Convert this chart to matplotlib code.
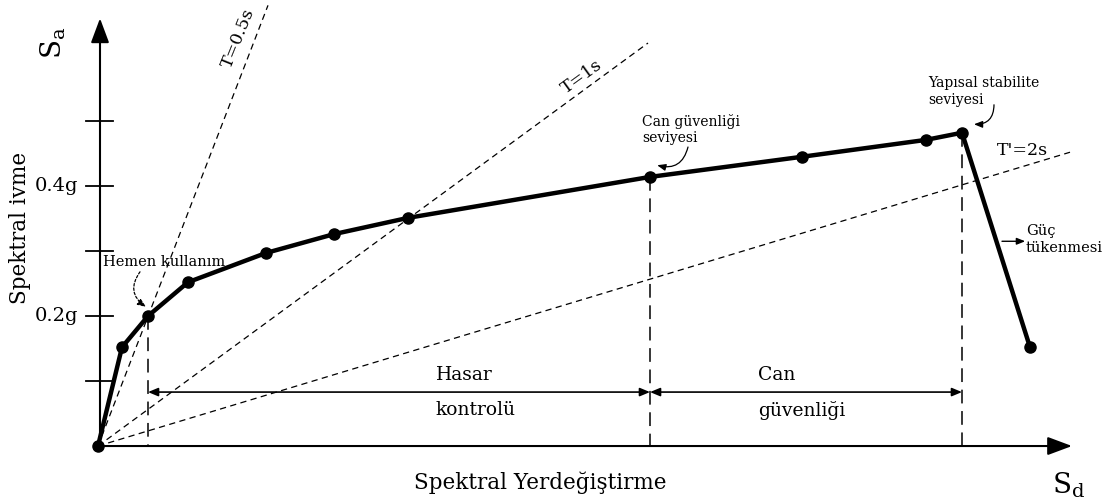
import numpy as np
import matplotlib
matplotlib.use("Agg")
import matplotlib.pyplot as plt

plt.rcParams['font.family'] = ['DejaVu Serif']
plt.rcParams['mathtext.fontset'] = 'dejavuserif'

# Kapasite egrisi (Sd: spektral yerdegistirme, Sa: spektral ivme [g])
sd = [0.0, 0.6, 1.25, 2.25, 4.2, 5.9, 7.75, 13.8, 17.6, 20.7, 21.6, 23.3]
sa = [0.0, 0.152, 0.20, 0.252, 0.297, 0.326, 0.351, 0.414, 0.445, 0.471, 0.482, 0.152]

# Performans seviyeleri (egri uzerindeki nokta indeksleri)
idx_hemen = 2
idx_can = 7
idx_yapisal = 10

# Periyot dogrulari: uc noktalari (Sd, Sa)
periyot_etiket = ["T=0.5s", "T=1s", "T'=2s"]
periyot_sd = [4.25, 13.75, 24.3]
periyot_sa = [0.678, 0.62, 0.452]

# Eksen isaretleri
ytick_vals = [0.1, 0.2, 0.3, 0.4, 0.5]
ytick_labels = {0.2: "0.2g", 0.4: "0.4g"}

fig = plt.figure(figsize=(11.13, 5.04), dpi=100)
ax = fig.add_axes([0, 0, 1, 1])
ax.set_xlim(-2.45, 25.375)
ax.set_ylim(-0.0892, 0.6862)
ax.axis('off')

# Eksenler
eksen_ok = dict(arrowstyle='-|>,head_length=0.75,head_width=0.28',
                lw=1.5, color='k', mutation_scale=20, shrinkA=0, shrinkB=0)
ax.annotate('', xy=(0.05, 0.658), xytext=(0.05, 0.0), arrowprops=eksen_ok)
ax.annotate('', xy=(24.35, 0.0), xytext=(0.0, 0.0), arrowprops=eksen_ok)
for v in ytick_vals:
    ax.plot([-0.3, 0.38], [v, v], color='k', lw=1.3)
    if v in ytick_labels:
        ax.text(-0.5, v, ytick_labels[v], ha='right', va='center', fontsize=14)

# Periyot dogrulari
for sx, sy in zip(periyot_sd, periyot_sa):
    ax.plot([0, sx], [0, sy], color='k', lw=0.9, dashes=(5, 3.5))
ax.text(3.5, 0.628, periyot_etiket[0], rotation=68, ha='center', va='center', fontsize=12.5)
ax.text(12.1, 0.568, periyot_etiket[1], rotation=36, ha='center', va='center', fontsize=12.5)
ax.text(23.1, 0.455, periyot_etiket[2], ha='center', va='center', fontsize=12.5)

# Performans seviyelerinden dusey kesikli cizgiler
for i in (idx_hemen, idx_can, idx_yapisal):
    ax.plot([sd[i], sd[i]], [sa[i], 0], color='k', lw=1.1, dashes=(9, 5))

# Hasar bolgeleri
y_ok = 0.083
for a, b in ((idx_hemen, idx_can), (idx_can, idx_yapisal)):
    ax.annotate('', xy=(sd[b], y_ok), xytext=(sd[a], y_ok),
                arrowprops=dict(arrowstyle='<|-|>,head_length=0.6,head_width=0.25',
                                lw=1.2, color='k', mutation_scale=10, shrinkA=0, shrinkB=0))
ax.text(8.45, 0.109, "Hasar", ha='left', va='center', fontsize=13.5)
ax.text(8.45, 0.055, "kontrolü", ha='left', va='center', fontsize=13.5)
ax.text(16.5, 0.109, "Can", ha='left', va='center', fontsize=13.5)
ax.text(16.5, 0.055, "güvenliği", ha='left', va='center', fontsize=13.5)

# Kapasite egrisi
ax.plot(sd, sa, color='k', lw=3.2, marker='o', markersize=8, zorder=5)

# Seviye aciklamalari
kucuk_ok = dict(arrowstyle='-|>,head_length=0.5,head_width=0.2', lw=0.9,
                color='k', mutation_scale=10, shrinkA=0, shrinkB=0)
ax.text(0.12, 0.283, "Hemen kullanım", ha='left', va='center', fontsize=10.5)
ax.annotate('', xy=(1.2, 0.214), xytext=(1.05, 0.268),
            arrowprops=dict(kucuk_ok, ls=(0, (2, 1.5)), connectionstyle='arc3,rad=0.5'))
ax.text(13.6, 0.487, "Can güvenliği\nseviyesi", ha='left', va='center',
        fontsize=10, linespacing=1.25)
ax.annotate('', xy=(13.98, 0.432), xytext=(14.75, 0.46),
            arrowprops=dict(kucuk_ok, connectionstyle='arc3,rad=-0.5'))
ax.text(20.75, 0.546, "Yapısal stabilite\nseviyesi", ha='left', va='center',
        fontsize=10, linespacing=1.25)
ax.annotate('', xy=(21.9, 0.495), xytext=(22.4, 0.525),
            arrowprops=dict(kucuk_ok, connectionstyle='arc3,rad=-0.5'))
ax.text(23.2, 0.318, "Güç\ntükenmesi", ha='left', va='center',
        fontsize=10.5, linespacing=1.3)
ax.annotate('', xy=(23.18, 0.315), xytext=(22.6, 0.315),
            arrowprops=dict(kucuk_ok, lw=1.0))

# Eksen basliklari
ax.text(7.9, -0.057, "Spektral Yerdeğiştirme", ha='left', va='center', fontsize=15.5)
ax.text(23.85, -0.06, r"$\mathrm{S_d}$", ha='left', va='center', fontsize=20)
ax.text(-1.125, 0.62, r"$\mathrm{S_a}$", rotation=90, ha='center', va='center', fontsize=20)
ax.text(-1.95, 0.335, "Spektral ivme", rotation=90, ha='center', va='center', fontsize=15.5)

fig.savefig("out.png", dpi=100)
